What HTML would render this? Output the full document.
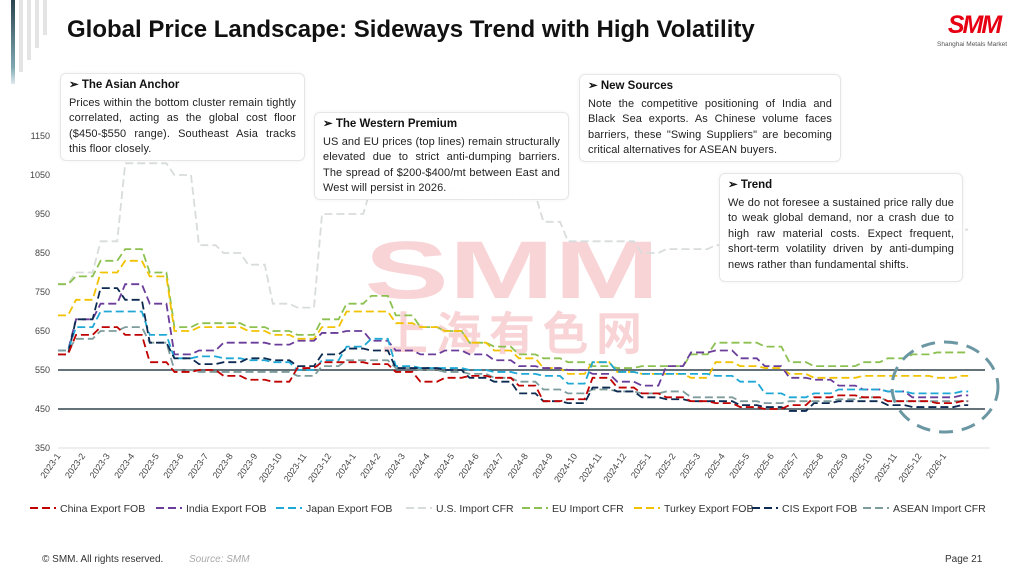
<!DOCTYPE html>
<html><head><meta charset="utf-8"><style>
body{margin:0;width:1024px;height:576px;overflow:hidden;background:#fff;font-family:"Liberation Sans",sans-serif;position:relative}
.t{position:absolute;left:67px;top:16px;font-size:24px;font-weight:bold;color:#111;letter-spacing:0px}
.box{position:absolute;border:1px solid #e6e6e6;border-radius:6px;background:rgba(255,255,255,.92);padding:4px 8px;box-sizing:border-box;font-size:11px;line-height:15.6px;color:#222;text-align:justify;letter-spacing:0.1px;box-shadow:0 0 3px rgba(0,0,0,.06)}
.box b{display:block;font-size:11.5px;margin-bottom:2px;color:#111;letter-spacing:0}
.y{position:absolute;left:20px;width:30px;text-align:right;font-size:9px;color:#444}
.ft{position:absolute;top:554px;font-size:10px;color:#333}
</style></head><body>
<div style="position:absolute;left:11px;top:0;width:4px;height:84px;background:linear-gradient(#2b4450,#7fa8b3 80%,#dfe9ec)"></div>
<div style="position:absolute;left:19px;top:0;width:4px;height:72px;background:#e4e4e4"></div>
<div style="position:absolute;left:27px;top:0;width:4px;height:60px;background:#e4e4e4"></div>
<div style="position:absolute;left:35px;top:0;width:4px;height:48px;background:#e4e4e4"></div>
<div style="position:absolute;left:43px;top:0;width:4px;height:35px;background:#e4e4e4"></div>
<div class="t">Global Price Landscape: Sideways Trend with High Volatility</div>
<div style="position:absolute;left:937px;top:14px;width:74px;height:22px;color:#e60012;font-weight:bold;font-style:italic;font-size:25px;line-height:22px;letter-spacing:-2px;text-align:center">SMM</div>
<div style="position:absolute;left:937px;top:41px;font-size:6.5px;color:#555">Shanghai Metals Market</div>

<svg width="1024" height="576" style="position:absolute;left:0;top:0" id="s">
<g opacity="0.2" fill="#e0303a" font-weight="bold">
<text x="512" y="298" text-anchor="middle" font-size="82" font-family="Liberation Sans" textLength="295" lengthAdjust="spacingAndGlyphs">SMM</text>
<text x="512" y="350" text-anchor="middle" font-size="46" font-family="Noto Sans CJK SC,sans-serif" textLength="260">上海有色网</text>
</g>
<line x1="58" y1="448" x2="990" y2="448" stroke="#ddd"/>
<line x1="58" y1="370" x2="985" y2="370" stroke="#33444d" stroke-width="1.5"/>
<line x1="58" y1="409" x2="985" y2="409" stroke="#33444d" stroke-width="1.5"/>
<g id="series" fill="none" stroke-width="1.8" stroke-dasharray="8,4"></g>
<ellipse cx="945" cy="387" rx="53" ry="45" fill="none" stroke="#6b97a3" stroke-width="3" stroke-dasharray="14,9"/>
<g id="xl" font-size="9" fill="#444"></g>
<g id="lg" font-size="10.5" fill="#333"></g>
</svg>

<div class="y" style="top:131px">1150</div>
<div class="y" style="top:170px">1050</div>
<div class="y" style="top:209px">950</div>
<div class="y" style="top:248px">850</div>
<div class="y" style="top:287px">750</div>
<div class="y" style="top:326px">650</div>
<div class="y" style="top:365px">550</div>
<div class="y" style="top:404px">450</div>
<div class="y" style="top:443px">350</div>

<div class="box" style="left:60px;top:73px;width:245px;height:88px"><b>➢ The Asian Anchor</b>Prices within the bottom cluster remain tightly correlated, acting as the global cost floor ($450-$550 range). Southeast Asia tracks this floor closely.</div>
<div class="box" style="left:314px;top:112px;width:255px;height:88px"><b>➢ The Western Premium</b>US and EU prices (top lines) remain structurally elevated due to strict anti-dumping barriers. The spread of $200-$400/mt between East and West will persist in 2026.</div>
<div class="box" style="left:579px;top:74px;width:262px;height:88px"><b>➢ New Sources</b>Note the competitive positioning of India and Black Sea exports. As Chinese volume faces barriers, these "Swing Suppliers" are becoming critical alternatives for ASEAN buyers.</div>
<div class="box" style="left:719px;top:173px;width:244px;height:109px"><b>➢ Trend</b>We do not foresee a sustained price rally due to weak global demand, nor a crash due to high raw material costs. Expect frequent, short-term volatility driven by anti-dumping news rather than fundamental shifts.</div>

<div class="ft" style="left:42px">© SMM. All rights reserved.</div>
<div class="ft" style="left:189px;color:#aaa;font-style:italic">Source: SMM</div>
<div class="ft" style="left:945px">Page 21</div>
<script>
var S=[
["U.S. Import CFR","#d8dcdc",[770,800,880,1080,1080,1050,870,850,820,720,710,950,950,1020,1020,1020,1010,1000,1000,1000,930,880,880,880,850,860,860,870,880,880,880,880,890,900,900,910,910,910]],
["EU Import CFR","#8cc152",[770,790,830,860,800,660,670,670,660,650,640,680,720,740,690,660,650,620,610,590,580,570,560,555,560,560,590,620,620,610,570,560,560,570,580,590,595,595]],
["Turkey Export FOB","#f2c200",[690,730,800,830,790,650,660,660,650,640,630,660,700,700,670,660,650,620,600,580,555,540,570,545,540,540,530,570,560,555,540,530,530,535,535,535,530,535]],
["India Export FOB","#6a3d9a",[600,680,720,770,720,590,600,620,620,615,625,645,650,625,600,590,600,590,575,560,555,550,540,520,510,560,595,600,580,560,530,525,510,500,495,480,480,485]],
["Japan Export FOB","#1fa8d6",[600,660,700,700,640,580,585,580,575,570,550,575,610,630,560,555,555,550,545,540,535,515,570,545,540,540,540,535,520,490,480,490,500,500,495,490,490,495]],
["ASEAN Import CFR","#7f9c9c",[600,630,650,660,620,550,545,545,545,545,535,560,575,575,555,550,545,540,530,520,500,490,500,495,490,495,480,480,470,465,470,470,475,480,470,470,470,470]],
["CIS Export FOB","#0d2b52",[590,680,760,730,620,580,565,570,580,575,560,590,605,600,555,555,550,530,520,490,470,465,505,495,480,475,470,470,460,455,445,465,470,470,460,455,455,460]],
["China Export FOB","#c00000",[590,640,660,640,570,545,550,535,525,520,555,570,570,565,545,520,530,535,530,510,470,475,530,505,490,480,470,465,455,450,460,480,485,480,470,470,465,470]]];
var ns="http://www.w3.org/2000/svg",g=document.getElementById("series");
function X(i){return 58+i*24.6}function Y(v){return 448-(v-350)*0.39}
S.forEach(function(s){var d="";s[2].forEach(function(v,i){var x=X(i),y=Y(v);if(i==0)d+="M"+x+" "+y;else{var px=X(i-1),py=Y(s[2][i-1]);d+=" L"+(px+10)+" "+py+" L"+(px+18)+" "+y+" L"+x+" "+y;}});
var p=document.createElementNS(ns,"path");p.setAttribute("d",d);p.setAttribute("stroke",s[1]);g.appendChild(p);});
var xl=document.getElementById("xl");
for(var i=0;i<37;i++){var yr=2023+Math.floor(i/12),m=i%12+1;var t=document.createElementNS(ns,"text");t.textContent=yr+"-"+m;t.setAttribute("text-anchor","end");t.setAttribute("transform","translate("+(X(i)+3)+",456) rotate(-55)");xl.appendChild(t);}
var order=[7,3,4,0,1,2,6,5],lx=[30,156,276,406,522,634,752,863],lg=document.getElementById("lg");
order.forEach(function(k,j){var s=S[k],x=lx[j];var l=document.createElementNS(ns,"line");l.setAttribute("x1",x);l.setAttribute("x2",x+26);l.setAttribute("y1",508);l.setAttribute("y2",508);l.setAttribute("stroke",s[1]);l.setAttribute("stroke-width",2);l.setAttribute("stroke-dasharray","8,4");lg.appendChild(l);
var t=document.createElementNS(ns,"text");t.setAttribute("x",x+30);t.setAttribute("y",512);t.textContent=s[0];lg.appendChild(t);});
</script>
</body></html>
